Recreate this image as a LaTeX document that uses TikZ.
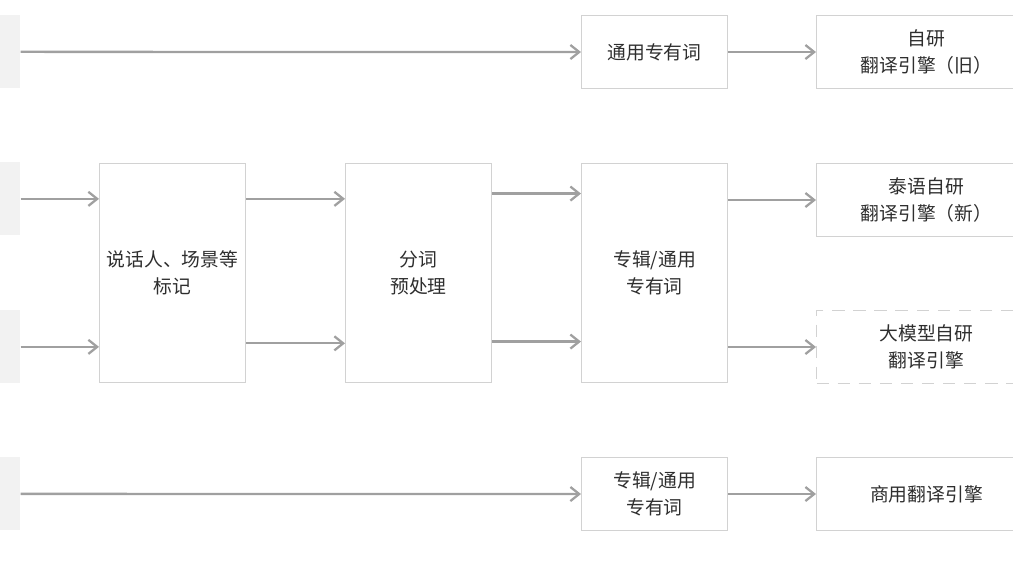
\documentclass[tikz,border=0pt]{standalone}
\usepackage{fontspec}
\setmainfont{Noto Sans CJK SC}
\usetikzlibrary{arrows.meta}
\definecolor{boxline}{HTML}{D2D2D2}
\definecolor{flowgray}{HTML}{A0A0A0}
\definecolor{srcfill}{HTML}{F2F2F2}
\definecolor{textgray}{HTML}{2E2E2E}
\tikzset{
  box/.style={draw=boxline, line width=0.6pt, fill=white, text=textgray, align=center,
    inner sep=0pt, anchor=north west, minimum width=2.92cm, minimum height=1.46cm},
  tallbox/.style={box, minimum height=4.38cm},
  engine/.style={box, minimum width=4.4cm},
  srcbox/.style={fill=srcfill, inner sep=0pt, anchor=north west, minimum width=0.8cm, minimum height=1.46cm},
  flow/.style={draw=flowgray, line width=1.3pt, -{Straight Barb[length=5pt,width=8pt,line width=1.3pt]}}
}
\begin{document}
\begin{tikzpicture}[x=0.02cm, y=-0.02cm, font=\fontsize{10.7}{15.4}\selectfont]
\useasboundingbox (0,0) rectangle (1013,569);
\clip (0,0) rectangle (1013,569);
% inputs on the left, cut off by the page edge
\node[srcbox] (src1) at (-20,15) {};
\node[srcbox] (src2) at (-20,162) {};
\node[srcbox] (src3) at (-20,310) {};
\node[srcbox] (src4) at (-20,457) {};
% middle chain
\node[tallbox] (tag) at (99,163) {说话人、场景等\\标记};
\node[tallbox] (seg) at (345,163) {分词\\预处理};
\node[tallbox] (term) at (581,163) {专辑/通用\\专有词};
\node[box] (gterm) at (581,15) {通用专有词};
\node[box] (bterm) at (581,457) {专辑/通用\\专有词};
% engines on the right
\node[engine] (old) at (816,15) {自研\\翻译引擎（旧）};
\node[engine] (thai) at (816,163) {泰语自研\\翻译引擎（新）};
\node[engine, dashed, dash pattern=on 7pt off 5pt] (llm) at (816,310) {大模型自研\\翻译引擎};
\node[engine] (biz) at (816,457) {商用翻译引擎};
% connectors
\draw[flow] (src1.east) -- (gterm.west);
\draw[flow] (gterm.east) -- (old.west);
\draw[flow] (src2.east) -- (tag.west |- src2.east);
\draw[flow] (src3.east) -- (tag.west |- src3.east);
\draw[flow] (tag.east |- src2.east) -- (seg.west |- src2.east);
\draw[flow] ([yshift=2pt]tag.east |- src3.east) -- ([yshift=2pt]seg.west |- src3.east);
\draw[flow] ([yshift=3pt]seg.east |- src2.east) -- ([yshift=3pt]term.west |- src2.east);
\draw[flow] ([yshift=3pt]seg.east |- src3.east) -- ([yshift=3pt]term.west |- src3.east);
\draw[flow] (term.east |- thai.west) -- (thai.west);
\draw[flow] (term.east |- llm.west) -- (llm.west);
\draw[flow] (src4.east) -- (bterm.west);
\draw[flow] (bterm.east) -- (biz.west);
\end{tikzpicture}
\end{document}
